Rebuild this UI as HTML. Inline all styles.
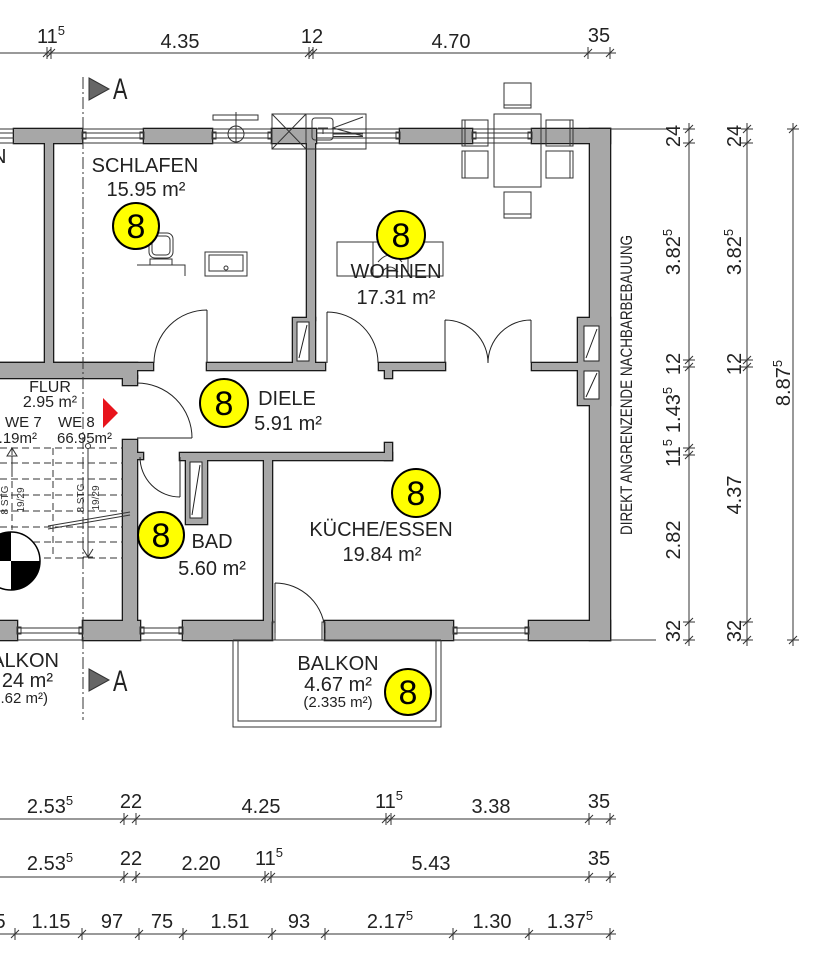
<!DOCTYPE html>
<html><head><meta charset="utf-8"><style>
html,body{margin:0;padding:0;background:#fff;}
svg{display:block;font-family:"Liberation Sans",Arial,sans-serif;}
.t{fill:#222;font-size:20px;}
.s{fill:#222;font-size:15px;}
.e{font-size:34px;fill:#000;text-anchor:middle;}
</style></head><body>
<svg width="821" height="960" viewBox="0 0 821 960" xmlns="http://www.w3.org/2000/svg">
<defs>
<g id="w">
<rect x="14" y="129" width="68" height="14"/>
<rect x="144" y="129" width="68" height="14"/>
<rect x="272" y="129" width="44" height="14"/>
<rect x="400" y="129" width="72" height="14"/>
<rect x="532" y="129" width="78" height="14"/>
<rect x="590" y="129" width="20" height="511"/>
<rect x="578" y="318" width="32" height="87"/>
<rect x="-5" y="621" width="22" height="19"/>
<rect x="83" y="621" width="57" height="19"/>
<rect x="183" y="621" width="89" height="19"/>
<rect x="325" y="621" width="128" height="19"/>
<rect x="529" y="621" width="81" height="19"/>
<rect x="45" y="143" width="8" height="222"/>
<rect x="307" y="143" width="8" height="177"/>
<rect x="293" y="318" width="22" height="47"/>
<rect x="-5" y="363" width="158" height="7"/>
<rect x="207" y="363" width="118" height="7"/>
<rect x="379" y="363" width="66" height="7"/>
<rect x="532" y="363" width="50" height="7"/>
<rect x="385" y="368" width="7" height="10"/>
<rect x="-5" y="363" width="142" height="15"/>
<rect x="123" y="376" width="14" height="9"/>
<rect x="123" y="440" width="14" height="183"/>
<rect x="135" y="453" width="8" height="6"/>
<rect x="180" y="453" width="212" height="7"/>
<rect x="385" y="443" width="7" height="17"/>
<rect x="186" y="458" width="21" height="66"/>
<rect x="264" y="458" width="8" height="165"/>
</g>
</defs>

<!-- walls -->
<use href="#w" fill="#1a1a1a" stroke="#1a1a1a" stroke-width="2.6"/>
<use href="#w" fill="#a7a7a7"/>

<!-- shaft boxes -->
<g fill="#fff" stroke="#222" stroke-width="1">
<rect x="297" y="322" width="12" height="39"/>
<rect x="584" y="326" width="15" height="35"/>
<rect x="584" y="371" width="15" height="28"/>
<rect x="190" y="462" width="12" height="56"/>
</g>
<g stroke="#222" stroke-width="1" fill="none">
<path d="M307,325 L299,358 M597,329 L586,358 M597,373 L586,397 M200,465 L192,515"/>
</g>

<!-- windows -->
<g stroke="#333" stroke-width="1" fill="none">
<path d="M0,129H14 M0,133H14 M0,138H14 M0,143H14"/>
<path d="M82,129H144 M82,133H144 M82,138H144 M82,143H144"/>
<path d="M212,129H272 M212,133H272 M212,138H272 M212,143H272"/>
<path d="M316,129H400 M316,133H400 M316,138H400 M316,143H400"/>
<path d="M472,129H532 M472,133H532 M472,138H532 M472,143H532"/>
<rect x="82" y="132" width="4" height="7"/><rect x="140" y="132" width="4" height="7"/>
<rect x="212" y="132" width="4" height="7"/><rect x="268" y="132" width="4" height="7"/>
<rect x="396" y="132" width="4" height="7"/>
<rect x="472" y="132" width="4" height="7"/><rect x="528" y="132" width="4" height="7"/>
<path d="M17,628H83 M17,633H83 M17,640H83"/>
<path d="M140,628H183 M140,633H183 M140,640H183"/>
<path d="M453,628H529 M453,633H529 M453,640H529"/>
<rect x="17" y="627" width="4" height="7"/><rect x="79" y="627" width="4" height="7"/>
<rect x="140" y="627" width="4" height="7"/><rect x="179" y="627" width="4" height="7"/>
<rect x="453" y="627" width="4" height="7"/><rect x="525" y="627" width="4" height="7"/>
<rect x="272" y="622" width="3" height="18"/><rect x="322" y="622" width="3" height="18"/>
</g>

<!-- fixtures top -->
<g stroke="#333" stroke-width="1" fill="none">
<rect x="213" y="115" width="45" height="5"/>
<path d="M236,112 V143"/>
<circle cx="236" cy="134" r="8"/>
<rect x="272" y="114" width="94" height="35"/>
<path d="M306,114 V149 M272,114 L306,149 M306,114 L272,149"/>
<rect x="312" y="118" width="21" height="22" rx="3"/>
<path d="M318,128 H328 M323,128 V134 M363,117 L333,128 L363,136 M333,134 H363 M333,136.5 H363"/>
<!-- table and chairs -->
<rect x="494" y="114" width="47" height="73"/>
<rect x="504" y="83" width="27" height="25"/><path d="M504,105 H531"/>
<rect x="504" y="192" width="27" height="26"/><path d="M504,214 H531"/>
<rect x="462" y="120" width="26" height="26"/><path d="M465,120 V146"/>
<rect x="462" y="151" width="26" height="27"/><path d="M465,151 V178"/>
<rect x="546" y="120" width="27" height="26"/><path d="M570,120 V146"/>
<rect x="546" y="151" width="27" height="27"/><path d="M570,151 V178"/>
<!-- schlafen fixtures -->
<rect x="149" y="233" width="24" height="25" rx="6"/>
<rect x="152" y="236" width="18" height="19" rx="4"/>
<rect x="150" y="259" width="22" height="6"/>
<path d="M137,265 H185 V276"/>
<rect x="205" y="252" width="42" height="24"/>
<rect x="209" y="255" width="34" height="16"/>
<circle cx="226" cy="268" r="2"/>
<!-- wohnen sofa -->
<rect x="337" y="242" width="106" height="34"/>
<path d="M373,242 V276 M408,242 V276 M378,262 Q390,248 402,262 M382,272 Q390,262 398,272"/>
</g>

<!-- doors -->
<g stroke="#222" stroke-width="1" fill="none">
<path d="M207,310 V363 M207,310 A53,53 0 0 0 154,363"/>
<path d="M327,312 V363 M327,312 A51,51 0 0 1 378,363"/>
<path d="M445,320 V363 M445,320 A43,43 0 0 1 488,363"/>
<path d="M531,320 V363 M531,320 A43,43 0 0 0 488,363"/>
<path d="M137,438 H192 M137,383 A55,55 0 0 1 192,438"/>
<path d="M180,457 V497 M140,457 A40,40 0 0 0 180,497"/>
<path d="M275,583 V633 M275,583 A50,50 0 0 1 325,633"/>
</g>

<!-- stairs -->
<g stroke="#333" stroke-width="1" fill="none" stroke-dasharray="7 4">
<path d="M0,448H123 M0,463H123 M0,479H123 M0,495H123 M0,511H123 M0,527H123 M0,542H123 M0,558H123"/>
<path d="M53,448V558 M12,448V530"/>
</g>
<g stroke="#333" stroke-width="1" fill="none">
<path d="M88,448 V557 M83,549 L88,557 L93,549 M83,557 H93"/>
<circle cx="88" cy="446" r="2.5" fill="#fff"/>
<path d="M12,456 V470 M7,456 L12,448 L17,456 Z"/>
<path d="M48,526 L130,512 M48,529 L130,515"/>
</g>
<g fill="#333" font-size="10px">
<text transform="translate(84,498) rotate(-90)" text-anchor="middle">8 STG</text>
<text transform="translate(99,498) rotate(-90)" text-anchor="middle">19/29</text>
<text transform="translate(8,500) rotate(-90)" text-anchor="middle">8 STG</text>
<text transform="translate(24,500) rotate(-90)" text-anchor="middle">19/29</text>
</g>
<!-- checker circle -->
<circle cx="11" cy="561" r="29" fill="#fff" stroke="#000" stroke-width="1.5"/>
<path d="M11,561 L11,532 A29,29 0 0 0 -18,561 Z" fill="#000"/>
<path d="M11,561 L11,590 A29,29 0 0 0 40,561 Z" fill="#000"/>

<!-- red triangle -->
<polygon points="103,398 118,413 103,428" fill="#e8141c"/>

<!-- balcony -->
<g stroke="#333" stroke-width="1" fill="none">
<path d="M233,640 V727 H441 V640 M238,640 V721 H436 V640 M233,640 H441"/>
</g>

<!-- section line -->
<path d="M83,77 V720" stroke="#333" stroke-width="1" stroke-dasharray="12 3 2 3" fill="none"/>
<polygon points="89,78 109,89 89,100" fill="#666" stroke="#333" stroke-width="1"/>
<text transform="translate(113,99) scale(0.72,1)" font-size="30px" fill="#222">A</text>
<polygon points="89,669 109,680 89,691" fill="#666" stroke="#333" stroke-width="1"/>
<text transform="translate(113,691) scale(0.72,1)" font-size="30px" fill="#222">A</text>

<!-- dimension lines -->
<g stroke="#333" stroke-width="1" fill="none">
<path d="M0,53H616 M47,47V59 M43,57L51,49 M51,47V59 M47,57L55,49 M309,47V59 M305,57L313,49 M313,47V59 M309,57L317,49 M588,47V59 M584,57L592,49 M610,47V59 M606,57L614,49"/>
<path d="M0,819H616 M124,813V825 M120,823L128,815 M136,813V825 M132,823L140,815 M386,813V825 M382,823L390,815 M391,813V825 M387,823L395,815 M589,813V825 M585,823L593,815 M610,813V825 M606,823L614,815"/>
<path d="M0,877H616 M124,871V883 M120,881L128,873 M136,871V883 M132,881L140,873 M265,871V883 M261,881L269,873 M271,871V883 M267,881L275,873 M589,871V883 M585,881L593,873 M610,871V883 M606,881L614,873"/>
<path d="M0,934H616 M15,928V940 M11,938L19,930 M82,928V940 M78,938L86,930 M139,928V940 M135,938L143,930 M183,928V940 M179,938L187,930 M272,928V940 M268,938L276,930 M325,928V940 M321,938L329,930 M453,928V940 M449,938L457,930 M529,928V940 M525,938L533,930 M610,928V940 M606,938L614,930"/>
<path d="M610,129H666 M610,640H656"/>
<path d="M689,123V646 M683,129H695 M685,133L693,125 M683,143H695 M685,147L693,139 M683,360H695 M685,364L693,356 M683,367H695 M685,371L693,363 M683,448H695 M685,452L693,444 M683,455H695 M685,459L693,451 M683,622H695 M685,626L693,618 M683,640H695 M685,644L693,636"/>
<path d="M747,123V646 M741,129H753 M743,133L751,125 M741,143H753 M743,147L751,139 M741,360H753 M743,364L751,356 M741,367H753 M743,371L751,363 M741,622H753 M743,626L751,618 M741,640H753 M743,644L751,636"/>
<path d="M793,123V646 M787,129H799 M789,133L797,125 M787,640H799 M789,644L797,636"/>
</g>

<!-- dimension labels -->
<g class="t" text-anchor="middle">
<text x="51" y="43">11<tspan dy="-8" font-size="13">5</tspan></text>
<text x="180" y="48">4.35</text>
<text x="312" y="43">12</text>
<text x="451" y="48">4.70</text>
<text x="599" y="42">35</text>

<text x="50" y="813">2.53<tspan dy="-8" font-size="13">5</tspan></text>
<text x="131" y="808">22</text>
<text x="261" y="813">4.25</text>
<text x="389" y="808">11<tspan dy="-8" font-size="13">5</tspan></text>
<text x="491" y="813">3.38</text>
<text x="599" y="808">35</text>

<text x="50" y="870">2.53<tspan dy="-8" font-size="13">5</tspan></text>
<text x="131" y="865">22</text>
<text x="201" y="870">2.20</text>
<text x="269" y="865">11<tspan dy="-8" font-size="13">5</tspan></text>
<text x="431" y="870">5.43</text>
<text x="599" y="865">35</text>

<text x="0" y="928">5</text>
<text x="51" y="928">1.15</text>
<text x="112" y="928">97</text>
<text x="162" y="928">75</text>
<text x="230" y="928">1.51</text>
<text x="299" y="928">93</text>
<text x="390" y="928">2.17<tspan dy="-8" font-size="13">5</tspan></text>
<text x="492" y="928">1.30</text>
<text x="570" y="928">1.37<tspan dy="-8" font-size="13">5</tspan></text>

<text transform="translate(680,136) rotate(-90)">24</text>
<text transform="translate(680,252) rotate(-90)">3.82<tspan dy="-8" font-size="13">5</tspan></text>
<text transform="translate(680,364) rotate(-90)">12</text>
<text transform="translate(680,410) rotate(-90)">1.43<tspan dy="-8" font-size="13">5</tspan></text>
<text transform="translate(680,453) rotate(-90)">11<tspan dy="-8" font-size="13">5</tspan></text>
<text transform="translate(680,540) rotate(-90)">2.82</text>
<text transform="translate(680,631) rotate(-90)">32</text>

<text transform="translate(741,136) rotate(-90)">24</text>
<text transform="translate(741,252) rotate(-90)">3.82<tspan dy="-8" font-size="13">5</tspan></text>
<text transform="translate(741,364) rotate(-90)">12</text>
<text transform="translate(741,495) rotate(-90)">4.37</text>
<text transform="translate(741,631) rotate(-90)">32</text>

<text transform="translate(790,383) rotate(-90)">8.87<tspan dy="-8" font-size="13">5</tspan></text>
</g>

<text transform="translate(632,385) rotate(-90)" text-anchor="middle" font-size="17px" fill="#222" textLength="300" lengthAdjust="spacingAndGlyphs">DIREKT ANGRENZENDE NACHBARBEBAUUNG</text>

<!-- room labels -->
<g class="t" text-anchor="middle">
<text x="145" y="172">SCHLAFEN</text>
<text x="146" y="196">15.95 m²</text>
<text x="396" y="278">WOHNEN</text>
<text x="396" y="304">17.31 m²</text>
<text x="287" y="405">DIELE</text>
<text x="288" y="430">5.91 m²</text>
<text x="212" y="548">BAD</text>
<text x="212" y="575">5.60 m²</text>
<text x="381" y="536">KÜCHE/ESSEN</text>
<text x="382" y="561">19.84 m²</text>
<text x="338" y="670">BALKON</text>
<text x="338" y="691">4.67 m²</text>
</g>
<text class="s" x="338" y="707" text-anchor="middle">(2.335 m²)</text>
<text class="t" x="-8" y="163">N</text>

<g class="s">
<text x="50" y="392" text-anchor="middle" font-size="16px">FLUR</text>
<text x="50" y="407" text-anchor="middle" font-size="16px">2.95 m²</text>
<text x="5" y="427">WE 7</text>
<text x="58" y="427">WE 8</text>
<text x="37" y="443" text-anchor="end">3.19m²</text>
<text x="57" y="443">66.95m²</text>
</g>

<text class="t" x="59" y="667" text-anchor="end">BALKON</text>
<text class="t" x="53" y="687" text-anchor="end">4.24 m²</text>
<text class="s" x="48" y="703" text-anchor="end">(0.62 m²)</text>

<!-- yellow circles -->
<g fill="#ffff00" stroke="#000" stroke-width="2">
<circle cx="136" cy="226" r="23"/>
<circle cx="401" cy="235" r="24"/>
<circle cx="224" cy="403" r="24"/>
<circle cx="161" cy="535" r="23"/>
<circle cx="416" cy="493" r="24"/>
<circle cx="408" cy="692" r="23"/>
</g>
<g class="e">
<text x="136" y="238">8</text>
<text x="401" y="247">8</text>
<text x="224" y="415">8</text>
<text x="161" y="547">8</text>
<text x="416" y="505">8</text>
<text x="408" y="704">8</text>
</g>
</svg>
</body></html>
